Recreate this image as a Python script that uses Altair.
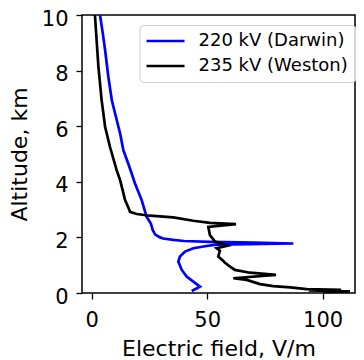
import altair as alt
import pandas as pd

# 220 kV (Darwin): electric field (V/m) vs altitude (km)
darwin_e = [43.3, 46.9, 44.0, 41.1, 39.0, 37.5, 38.2, 40.4, 44.0, 49.8, 54.1, 87.3, 70.0, 51.2, 40.0,
            35.3, 31.0, 29.6, 27.5, 26.4, 25.6, 23.8, 21.6, 18.7, 17.3, 15.8, 13.7, 12.3, 9.4, 8.7,
            7.2, 5.8, 4.8, 3.6]
darwin_alt = [0.07, 0.23, 0.41, 0.59, 0.83, 1.13, 1.31, 1.49, 1.61, 1.69, 1.74, 1.78, 1.81, 1.84, 1.87,
              1.91, 1.96, 2.00, 2.10, 2.27, 2.50, 2.74, 3.35, 3.95, 4.30, 4.66, 5.14, 5.74, 6.70, 6.94,
              7.78, 8.74, 9.34, 10.0]

# 235 kV (Weston)
weston_e = [100.0, 111.8, 94.0, 108.0, 93.1, 86.0, 78.6, 72.9, 67.1, 61.3, 79.8, 68.5, 62.0, 59.9,
            57.7, 57.0, 54.8, 55.5, 54.1, 58.7, 53.4, 51.2, 50.5, 62.5, 51.2, 44.0, 35.3, 25.2,
            19.5, 16.6, 16.0, 14.4, 13.7, 12.3, 10.8, 7.9, 5.8, 4.3, 2.9, 1.4]
weston_alt = [0.03, 0.06, 0.09, 0.11, 0.14, 0.20, 0.25, 0.32, 0.47, 0.53, 0.65, 0.73, 0.83, 0.95,
              1.09, 1.15, 1.31, 1.52, 1.61, 1.70, 1.85, 2.08, 2.38, 2.48, 2.52, 2.60, 2.72, 2.78,
              2.84, 2.92, 3.05, 3.35, 3.60, 4.06, 4.42, 5.26, 5.98, 6.94, 8.14, 10.0]

series = ["220 kV (Darwin)", "235 kV (Weston)"]
colors = ["#0000ff", "#000000"]
x_ticks = [0, 50, 100]
y_ticks = [0, 2, 4, 6, 8, 10]

rows = []
for i, (e, a) in enumerate(zip(darwin_e, darwin_alt)):
    rows.append({"series": series[0], "E": e, "alt": a, "i": i})
for i, (e, a) in enumerate(zip(weston_e, weston_alt)):
    rows.append({"series": series[1], "E": e, "alt": a, "i": i})
df = pd.DataFrame(rows)

chart = alt.Chart(df).mark_line(strokeWidth=2.7).encode(
    x=alt.X("E:Q", scale=alt.Scale(domain=[-4.2, 114.0], nice=False, zero=False),
            axis=alt.Axis(title="Electric field, V/m", values=x_ticks, titleBaseline="alphabetic",
                          titleY=62.5, labelPadding=10)),
    y=alt.Y("alt:Q", scale=alt.Scale(domain=[0, 10], nice=False, zero=False),
            axis=alt.Axis(title="Altitude, km", values=y_ticks, titleBaseline="alphabetic",
                          titleX=-56, labelPadding=8, labelBaseline="alphabetic", labelOffset=10)),
    color=alt.Color("series:N", scale=alt.Scale(domain=series, range=colors),
                    legend=alt.Legend(title=None, orient="none", legendX=57.5, legendY=10)),
    order="i:Q",
    detail="series:N",
).properties(
    width=273, height=278,
    autosize=alt.AutoSizeParams(type="none"),
    padding={"left": 74, "top": 7, "right": 1, "bottom": 67},
).configure(
    font="DejaVu Sans",
).configure_view(
    stroke="black", strokeWidth=1.5,
).configure_axis(
    grid=False, domain=False, ticks=True, tickColor="black", tickSize=6, tickWidth=1.3,
    labelColor="black", labelFontSize=21, titleColor="black", titleFontSize=22,
    titleFontWeight="normal", labelFont="DejaVu Sans", titleFont="DejaVu Sans",
).configure_legend(
    strokeColor="#cccccc", cornerRadius=4, fillColor="rgba(255,255,255,0.8)",
    padding=7, rowPadding=7, labelFontSize=18, labelColor="black", labelFont="DejaVu Sans",
    symbolType="M-3.8,0H3.8", symbolSize=100, symbolStrokeWidth=2.7,
    symbolOffset=10, labelOffset=24,
)

chart.save("out.html", embed_options={"renderer": "svg", "actions": False})
